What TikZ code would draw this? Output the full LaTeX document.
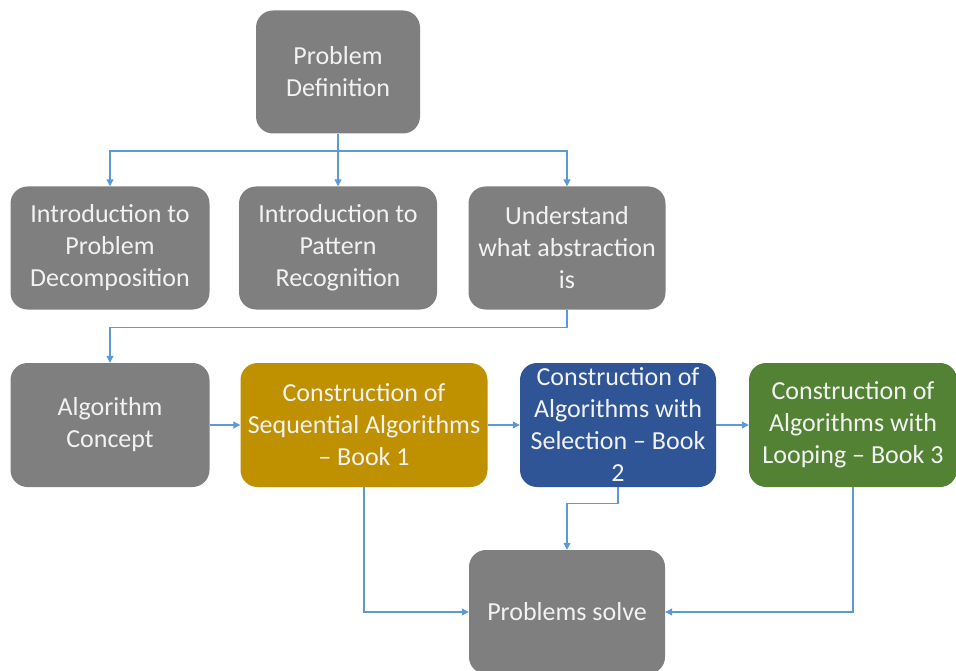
\documentclass[tikz,border=0pt]{standalone}
\usepackage{fontspec}
\setmainfont{Carlito}
\usetikzlibrary{arrows.meta}
\definecolor{boxgray}{HTML}{7F7F7F}
\definecolor{boxgold}{HTML}{BF9000}
\definecolor{boxblue}{HTML}{2F5597}
\definecolor{boxgreen}{HTML}{548235}
\definecolor{linkblue}{HTML}{5B9BD5}
\definecolor{boxtext}{HTML}{F2F2F2}
\tikzset{
  stage/.style={rectangle, rounded corners=17pt, fill=boxgray, text=boxtext,
    align=center, inner sep=0pt, font=\fontsize{26}{32}\selectfont},
  link/.style={draw=linkblue, line width=1.1pt,
    -{Triangle[width=7pt,length=7pt]}},
}
\begin{document}
\begin{tikzpicture}[x=1pt,y=-1pt]
\useasboundingbox (0,0) rectangle (956,671);
% top: problem definition
\node[stage, minimum width=164pt, minimum height=123pt] (pd) at (338,72) {Problem\\Definition};
% second row
\node[stage, minimum width=199pt, minimum height=123pt] (dec) at (110,248) {Introduction to\\Problem\\Decomposition};
\node[stage, minimum width=198pt, minimum height=123pt] (pat) at (338,248) {Introduction to\\Pattern\\Recognition};
\node[stage, minimum width=197pt, minimum height=123pt] (abs) at (567,248) {Understand\\what abstraction\\is};
% third row
\node[stage, minimum width=199pt, minimum height=124pt] (alg) at (110,425) {Algorithm\\Concept};
\node[stage, fill=boxgold, minimum width=247pt, minimum height=124pt] (seq) at (364,425) {Construction of\\Sequential Algorithms\\– Book 1};
\node[stage, fill=boxblue, minimum width=196pt, minimum height=124pt] (sel) at (618,425) {Construction of\\Algorithms with\\Selection – Book\\2};
\node[stage, fill=boxgreen, minimum width=208pt, minimum height=124pt] (loop) at (853,425) {Construction of\\Algorithms with\\Looping – Book 3};
% bottom
\node[stage, minimum width=196pt, minimum height=124pt] (solve) at (567,612) {Problems solve};
% connectors
\coordinate (split) at (338,151);
\draw[draw=linkblue, line width=1.1pt] (pd.south) -- (split);
\draw[link] (split) -| (dec.north);
\draw[link] (split) -- (pat.north);
\draw[link] (split) -| (abs.north);
\draw[link] (abs.south) -- ++(0,18) -| (alg.north);
\draw[link] (alg.east) -- (seq.west);
\draw[link] (seq.east) -- (sel.west);
\draw[link] (sel.east) -- (loop.west);
\draw[link] (seq.south) |- (solve.west);
\draw[link] (loop.south) |- (solve.east);
\draw[link] (sel.south) -- ++(0,16) -| (solve.north);
\end{tikzpicture}
\end{document}
